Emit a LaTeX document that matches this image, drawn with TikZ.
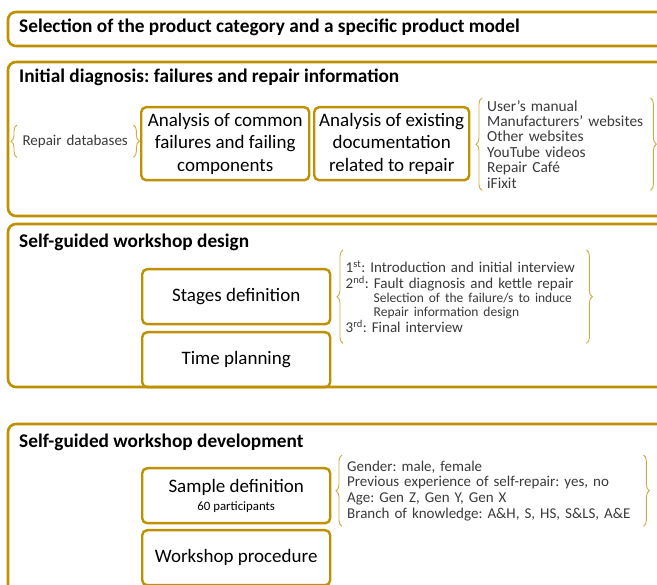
\documentclass[tikz,border=0pt]{standalone}
\usepackage{fontspec}
\setmainfont{Carlito}
\frenchspacing
\usetikzlibrary{decorations.pathreplacing}
\definecolor{gold}{HTML}{BF9000}
\definecolor{lightgold}{HTML}{D2A84A}
\definecolor{listgray}{HTML}{3A3A3A}
\begin{document}
\begin{tikzpicture}[x=1pt,y=-1pt,
    panel/.style={draw=gold,line width=2.6pt,rounded corners=8pt},
    title/.style={anchor=base west,inner sep=0pt,font=\fontsize{19.3}{22}\selectfont\bfseries},
    box/.style={draw=gold,line width=2.4pt,rounded corners=5pt,anchor=north west,align=center,
      inner sep=0pt,font=\fontsize{19}{22.5}\selectfont},
    list/.style={anchor=north west,align=left,inner ysep=0pt,text=listgray,
      font=\fontsize{15.4}{15.4}\selectfont},
    lbrace/.style={draw=lightgold,line width=0.9pt,decorate,decoration={brace,amplitude=6pt}}]
    \clip (0,0) rectangle (657,585);
    % panels
    \draw [panel] (8,12) rectangle (668,46);
    \draw [panel] (8,62) rectangle (668,216);
    \draw [panel] (8,224) rectangle (668,387);
    \draw [panel] (8,424) rectangle (668,610);
    \node [title] (sel) at (19,33) {Selection of the product category and a specific product model};
    \node [title] (diag) at (19,83) {Initial diagnosis: failures and repair information};
    \node [title] (design) at (19,248) {Self-guided workshop design};
    \node [title] (devel) at (19,448) {Self-guided workshop development};
    % initial diagnosis
    \node [list,align=center,inner xsep=3pt,text width=110pt,minimum height=32pt,
      font=\fontsize{15}{15}\selectfont] (rdb) at (17,125) {Repair databases};
    \node [box,minimum width=168pt,minimum height=73pt] (fail) at (140,106)
      {Analysis of common\\failures and failing\\components};
    \node [box,minimum width=155pt,minimum height=73pt] (docs) at (313,106)
      {Analysis of existing\\documentation\\related to repair};
    \node [list,inner xsep=5pt,text width=158pt,minimum height=92pt] (srcs) at (482,98)
      {User’s manual\\Manufacturers’ websites\\Other websites\\YouTube videos\\Repair Café\\iFixit};
    \draw [lbrace] (rdb.south west) -- (rdb.north west);
    \draw [lbrace] (rdb.north east) -- (rdb.south east);
    \draw [lbrace] (srcs.south west) -- (srcs.north west);
    \draw [lbrace] (srcs.north east) -- (srcs.south east);
    % workshop design
    \node [box,minimum width=188pt,minimum height=55pt] (stages) at (141,268) {Stages definition};
    \node [box,minimum width=188pt,minimum height=55pt] (time) at (141,331) {Time planning};
    \node [list,inner xsep=2.5pt,text width=238pt,minimum height=93pt,
      font=\fontsize{15}{15.8}\selectfont] (stlist) at (343,250)
      {1\textsuperscript{st}: Introduction and initial interview\\
       2\textsuperscript{nd}: Fault diagnosis and kettle repair\\[-1.5pt]
       {\fontsize{13.5}{14}\selectfont\hspace*{28pt}Selection of the failure/s to induce}\\[-1.5pt]
       {\fontsize{13.5}{14}\selectfont\hspace*{28pt}Repair information design}\\
       3\textsuperscript{rd}: Final interview};
    \draw [lbrace] (stlist.south west) -- (stlist.north west);
    \draw [lbrace] (stlist.north east) -- (stlist.south east);
    % workshop development
    \node [box,minimum width=188pt,minimum height=55pt] (sample) at (141,467)
      {Sample definition\\[-5pt]{\fontsize{12.8}{14}\selectfont 60 participants}};
    \node [box,minimum width=188pt,minimum height=55pt] (proc) at (141,529) {Workshop procedure};
    \node [list,inner xsep=5pt,text width=291pt,minimum height=71pt,
      font=\fontsize{15}{15.7}\selectfont] (smlist) at (342,455)
      {Gender: male, female\\Previous experience of self-repair: yes, no\\
       Age: Gen Z, Gen Y, Gen X\\Branch of knowledge: A\&H, S, HS, S\&LS, A\&E};
    \draw [lbrace] (smlist.south west) -- (smlist.north west);
    \draw [lbrace] (smlist.north east) -- (smlist.south east);
\end{tikzpicture}
\end{document}
